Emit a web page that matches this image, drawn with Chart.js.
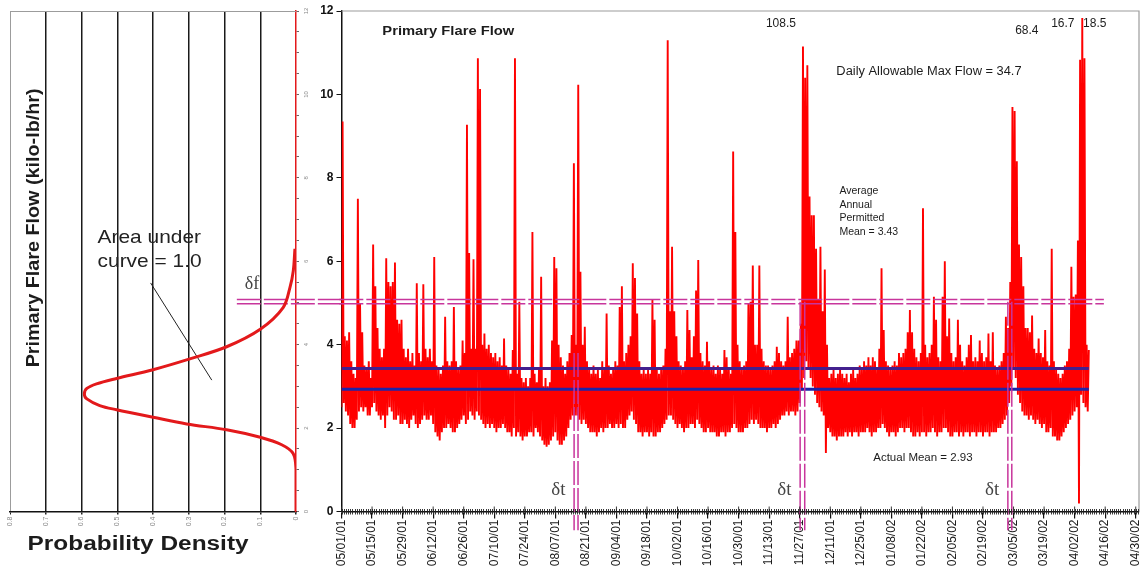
<!DOCTYPE html>
<html lang="en">
<head>
<meta charset="UTF-8">
<title>Primary Flare Flow</title>
<script src="https://cdn.jsdelivr.net/npm/chart.js"></script>
<style>
  body { margin: 0; background: #fff; }
  #wrap { position: relative; width: 1144px; height: 576px; }
  canvas { position: absolute; left: 0; top: 0; }
</style>
</head>
<body>
<div id="wrap">
  <canvas id="densityChart" width="345" height="576"></canvas>
  <canvas id="flowChart" width="1144" height="576"></canvas>
</div>
<script>
// ---- data ----
const dateLabels = ['05/01/01', '05/15/01', '05/29/01', '06/12/01', '06/26/01', '07/10/01', '07/24/01',
  '08/07/01', '08/21/01', '09/04/01', '09/18/01', '10/02/01', '10/16/01', '10/30/01', '11/13/01',
  '11/27/01', '12/11/01', '12/25/01', '01/08/02', '01/22/02', '02/05/02', '02/19/02', '03/05/02',
  '03/19/02', '04/02/02', '04/16/02', '04/30/02'];

// daily high / low of primary flare flow (kilo-lb/hr), day 0 = 05/01/01
const flowHigh = [
  9.35, 4.2, 4.1, 4.3, 3.6, 3.3, 3.2, 7.5, 5.0, 4.3,
  3.5, 3.4, 3.6, 3.2, 6.4, 5.4, 4.4, 3.9, 3.7, 3.9,
  6.07, 5.5, 5.4, 5.5, 5.97, 4.6, 4.5, 4.6, 3.9, 3.7,
  3.9, 3.6, 3.8, 3.5, 5.47, 3.8, 3.6, 5.45, 3.9, 3.7,
  3.9, 3.6, 6.1, 3.5, 3.4, 3.3, 3.5, 4.67, 3.6, 3.5,
  3.6, 4.9, 3.6, 3.4, 3.5, 4.1, 3.8, 9.27, 6.2, 3.9,
  6.05, 3.9, 10.87, 10.13, 4.0, 4.27, 3.9, 4.0, 3.8, 3.7,
  3.8, 3.6, 3.7, 3.5, 4.15, 3.5, 3.4, 3.3, 3.87, 10.87,
  3.3, 5.03, 3.2, 3.1, 3.2, 3.0, 3.2, 6.7, 3.3, 3.1,
  3.4, 5.63, 3.0, 3.2, 3.0, 3.1, 4.1, 6.1, 5.83, 4.0,
  3.7, 3.5, 3.3, 3.6, 3.8, 4.23, 8.35, 4.0, 10.23, 5.75,
  4.0, 4.43, 3.6, 3.4, 3.3, 3.5, 3.3, 3.4, 3.2, 3.6,
  3.4, 4.75, 3.5, 3.3, 3.4, 3.6, 3.5, 4.9, 5.4, 3.6,
  3.8, 4.0, 4.2, 5.95, 5.6, 4.75, 3.6, 3.3, 3.4, 3.3,
  3.4, 3.3, 5.07, 4.6, 3.4, 3.3, 3.4, 3.5, 3.9, 11.3,
  4.8, 6.35, 4.8, 4.2, 3.6, 3.5, 3.4, 3.6, 4.83, 4.35,
  3.7, 4.2, 5.3, 6.03, 3.8, 3.6, 3.5, 4.07, 3.6, 3.4,
  3.5, 3.3, 3.5, 3.4, 3.3, 3.87, 3.7, 3.4, 3.3, 8.63,
  6.7, 4.0, 3.6, 3.4, 3.5, 3.6, 5.0, 5.03, 5.9, 4.0,
  4.0, 5.9, 3.9, 3.6, 3.5, 3.5, 3.4, 3.5, 3.6, 3.95,
  3.8, 3.6, 3.5, 3.6, 4.67, 3.7, 3.8, 3.9, 4.1, 4.1,
  4.5, 11.15, 10.4, 10.7, 7.55, 7.1, 7.1, 6.3, 5.07, 6.35,
  4.8, 5.8, 4.0, 3.2, 3.3, 3.4, 3.2, 3.3, 3.4, 3.3,
  3.2, 3.3, 3.1, 3.3, 3.4, 3.2, 3.3, 3.5, 3.4, 3.6,
  3.5, 3.7, 3.5, 3.7, 3.6, 3.4, 3.9, 5.83, 4.35, 3.6,
  3.5, 3.4, 3.5, 3.6, 3.5, 3.8, 3.7, 3.8, 3.9, 4.3,
  4.83, 4.3, 3.9, 3.7, 3.6, 3.8, 7.27, 4.0, 3.7, 3.8,
  4.0, 5.15, 4.6, 3.7, 3.6, 5.15, 6.0, 4.2, 4.63, 3.8,
  3.6, 3.7, 4.6, 4.0, 3.6, 3.5, 3.7, 4.0, 4.23, 3.6,
  3.7, 3.6, 4.1, 3.8, 3.6, 3.7, 4.27, 3.6, 4.3, 3.5,
  3.4, 3.5, 3.6, 3.8, 4.67, 4.4, 5.5, 9.7, 9.6, 8.4,
  6.4, 6.1, 5.4, 4.4, 4.4, 4.3, 4.7, 3.9, 3.8, 4.15,
  3.8, 3.7, 4.35, 3.6, 3.5, 6.3, 3.6, 3.4, 3.3, 3.2,
  3.3, 3.5, 3.6, 3.9, 5.87, 5.15, 5.2, 6.5, 10.83, 11.83,
  10.87, 4.0, 3.87
];
const flowLow = [
  2.5, 2.6, 2.4, 2.3, 2.1, 2.0, 2.0, 2.2, 2.4, 2.5,
  2.4, 2.5, 2.3, 2.3, 2.5, 2.6, 2.4, 2.3, 2.2, 2.3,
  2.0, 2.3, 2.5, 2.4, 2.2, 2.2, 2.3, 2.1, 2.1, 2.2,
  2.1, 2.0, 2.2, 2.3, 2.1, 2.0, 2.1, 2.2, 2.3, 2.2,
  2.2, 2.3, 2.1, 1.9, 1.8, 1.7, 1.9, 2.0, 2.0, 2.1,
  2.0, 1.9, 1.9, 2.0, 2.1, 2.2, 2.3, 2.1, 2.2, 2.4,
  2.3, 2.2, 2.4, 2.3, 2.2, 2.1, 2.0, 2.1, 2.0, 2.1,
  2.0, 1.9, 2.0, 2.0, 2.1, 2.0, 1.9, 1.9, 1.8, 2.0,
  1.8, 1.9, 1.8, 1.7, 1.8, 1.8, 1.9, 1.9, 1.8, 2.0,
  1.9, 1.8, 1.7, 1.6, 1.55, 1.6, 1.7, 1.8, 1.9, 1.7,
  1.6, 1.6, 1.7, 1.8, 2.0, 2.2, 2.3, 2.3, 2.3, 2.2,
  2.1, 2.2, 2.1, 2.0, 1.9, 1.9, 1.9, 1.8, 1.9, 2.0,
  1.9, 2.0, 2.0, 2.1, 2.0, 2.0, 2.1, 2.0, 2.1, 2.0,
  2.0, 2.2, 2.3, 2.4, 2.2, 2.1, 1.9, 1.9, 1.8, 1.9,
  1.9, 1.8, 1.9, 1.8, 1.8, 1.9, 1.9, 2.0, 2.1, 2.2,
  2.3, 2.3, 2.2, 2.1, 2.0, 2.1, 2.0, 1.9, 2.0, 2.0,
  2.1, 2.1, 2.0, 2.2, 2.1, 2.0, 1.9, 1.9, 2.0, 1.9,
  1.9, 1.9, 1.8, 1.8, 1.9, 1.9, 1.8, 1.9, 1.9, 2.0,
  2.1, 2.0, 1.9, 1.9, 1.9, 2.0, 2.0, 2.1, 2.2, 2.1,
  2.2, 2.1, 2.0, 2.0, 2.0, 1.9, 2.0, 2.0, 2.1, 2.0,
  2.1, 2.2, 2.3, 2.3, 2.4, 2.3, 2.4, 2.4, 2.3, 2.4,
  2.6, 2.9, 3.2, 3.6, 3.4, 3.2, 3.0, 2.8, 2.6, 2.5,
  2.4, 2.3, 1.4, 2.0, 1.9, 1.8, 1.8, 1.7, 1.8, 1.8,
  1.8, 1.9, 1.8, 1.9, 1.8, 1.9, 1.9, 1.8, 1.9, 1.9,
  1.9, 2.0, 1.9, 1.8, 1.9, 1.9, 2.0, 2.0, 2.1, 2.0,
  1.9, 1.8, 1.9, 1.9, 1.8, 1.9, 2.0, 2.0, 1.9, 2.0,
  2.0, 1.9, 1.8, 1.8, 1.9, 1.8, 1.9, 1.9, 1.8, 1.9,
  1.9, 2.0, 1.9, 1.8, 1.9, 1.9, 2.0, 2.0, 1.9, 1.8,
  1.8, 1.9, 1.9, 1.8, 1.9, 1.8, 1.9, 1.9, 1.8, 1.9,
  1.9, 1.8, 1.9, 1.9, 1.8, 1.9, 1.9, 1.8, 1.9, 1.9,
  1.9, 2.0, 2.0, 2.1, 2.2, 2.3, 2.6, 3.0, 3.4, 3.2,
  2.8, 2.6, 2.4, 2.3, 2.3, 2.2, 2.3, 2.2, 2.1, 2.2,
  2.1, 2.0, 2.1, 1.9, 1.9, 2.0, 1.8, 1.8, 1.7, 1.7,
  1.8, 1.9, 2.0, 2.1, 2.2, 2.3, 2.4, 2.5, 0.19, 2.8,
  2.6, 2.5, 2.4
];

// probability density curve (flow value -> density)
const densFlow  = [0, 1.0, 1.39, 1.6, 1.78, 1.96, 2.10, 2.26, 2.44, 2.54, 2.70, 2.82, 2.95, 3.06, 3.19, 3.40, 3.66, 3.95, 4.37, 4.89, 5.37, 5.77, 6.3];
const densValue = [0, 0, 0.008, 0.04, 0.10, 0.194, 0.306, 0.40, 0.502, 0.549, 0.585, 0.592, 0.585, 0.558, 0.502, 0.40, 0.297, 0.194, 0.10, 0.036, 0.017, 0.0076, 0.003];

const permittedMean = 3.43;
const actualMean = 2.93;
const deltaFLevels = [4.98, 5.08];
const deltaTDays = [[106.6, 108.4], [210.2, 212.3], [305.4, 307.2]];
const deltaTTops = [3.8, 5.03, 5.03];

// ---- styling ----
const FONT = "'Liberation Sans', Arial, Helvetica, sans-serif";
const SERIF = "'Liberation Serif', 'DejaVu Serif', 'Times New Roman', serif";
const MAGENTA = '#c8359c';
Chart.defaults.font.family = FONT;

function drawNote(ctx, text, px, py, font, align, color, sx, rot) {
  ctx.save();
  ctx.translate(px, py);
  if (rot) ctx.rotate(rot);
  if (sx) ctx.scale(sx, 1);
  ctx.font = font;
  ctx.fillStyle = color;
  ctx.textAlign = align;
  ctx.textBaseline = 'middle';
  ctx.fillText(text, 0, 0);
  ctx.restore();
}

// ---- left: probability density ----
const densDecor = {
  id: 'densDecor',
  beforeDatasetsDraw(chart) {
    const {ctx, chartArea: a} = chart;
    ctx.save();
    ctx.strokeStyle = '#9c9c9c';
    ctx.lineWidth = 1;
    ctx.beginPath();
    ctx.moveTo(a.left, a.top + 0.5);
    ctx.lineTo(a.right, a.top + 0.5);
    ctx.stroke();
    ctx.restore();
  },
  afterDraw(chart) {
    const {ctx, scales: {x, y}} = chart;
    const at = (d, v) => [x.getPixelForValue(d), y.getPixelForValue(v)];
    let p = at(0.7333, 6.8);
    drawNote(ctx, 'Primary Flare Flow (kilo-lb/hr)', p[0], p[1], 'bold 19px ' + FONT, 'center', '#1c1c1c', 1.04, -Math.PI / 2);
    p = at(0.4417, -0.8);
    drawNote(ctx, 'Probability Density', p[0], p[1], 'bold 20px ' + FONT, 'center', '#1c1c1c', 1.22);
    p = at(0.555, 6.56);
    drawNote(ctx, 'Area under', p[0], p[1], '19px ' + FONT, 'left', '#222', 1.1);
    p = at(0.555, 5.98);
    drawNote(ctx, 'curve = 1.0', p[0], p[1], '19px ' + FONT, 'left', '#222', 1.1);
    p = at(0.1234, 5.46);
    drawNote(ctx, 'δf', p[0], p[1], '18px ' + SERIF, 'center', '#444');
  }
};

new Chart(document.getElementById('densityChart'), {
  type: 'line',
  data: {
    datasets: [
      {
        data: densFlow.map((f, i) => ({x: densValue[i], y: f})),
        borderColor: '#e3191b', borderWidth: 3, pointRadius: 0, tension: 0.35
      },
      ...deltaFLevels.map(v => ({
        data: [{x: 0.1655, y: v}, {x: -0.1262, y: v}],
        borderColor: MAGENTA, borderWidth: 1.5, borderDash: [24, 3], pointRadius: 0, clip: false
      })),
      {
        data: [{x: 0.4066, y: 5.48}, {x: 0.2356, y: 3.15}],
        borderColor: '#222', borderWidth: 1, pointRadius: 0
      }
    ]
  },
  options: {
    responsive: false, animation: false, devicePixelRatio: 1, events: [],
    layout: { padding: { left: 10, right: 29, top: 11, bottom: 0 } },
    plugins: { legend: { display: false }, tooltip: { enabled: false } },
    scales: {
      x: {
        type: 'linear', reverse: true, min: 0, max: 0.8,
        afterFit: s => { s.height = 64.5; },
        border: { color: '#111', width: 1.5 },
        grid: {
          color: c => Math.abs(c.tick.value - 0.8) < 1e-6 ? '#9c9c9c' : (c.tick.value < 1e-6 ? 'rgba(0,0,0,0)' : '#1a1a1a'),
          lineWidth: c => Math.abs(c.tick.value - 0.8) < 1e-6 ? 1 : 1.5,
          tickColor: '#222', tickLength: 3
        },
        ticks: {
          stepSize: 0.1, autoSkip: false, minRotation: 90, maxRotation: 90, padding: 2,
          color: '#888', font: { size: 7 },
          callback: v => v < 1e-6 ? '0' : v.toFixed(1)
        }
      },
      y: {
        position: 'right', min: 0, max: 12,
        afterFit: s => { s.width = 20; },
        border: { color: '#e3191b', width: 1.5 },
        grid: { drawOnChartArea: false, tickLength: 3, color: '#666' },
        ticks: {
          stepSize: 0.5, autoSkip: false, minRotation: 90, crossAlign: 'center', padding: 4,
          color: '#888', font: { size: 6 },
          callback: v => v % 2 === 0 ? String(v) : ''
        }
      }
    }
  },
  plugins: [densDecor]
});

// ---- right: primary flare flow time series ----
const tickDays = dateLabels.map((_, i) => i * 14);
const dataEndDay = flowHigh.length - 0.5;
const flowPoints = [];
flowHigh.forEach((hi, d) => {
  flowPoints.push({x: d, y: flowLow[d]});
  flowPoints.push({x: d + 0.5, y: hi});
});

const flowDecor = {
  id: 'flowDecor',
  afterDraw(chart) {
    const {ctx, chartArea: a, scales: {x, y}} = chart;
    ctx.save();
    ctx.strokeStyle = '#9c9c9c';
    ctx.lineWidth = 1.2;
    ctx.beginPath();
    ctx.moveTo(a.left, a.top);
    ctx.lineTo(a.right, a.top);
    ctx.lineTo(a.right, a.bottom);
    ctx.stroke();
    // daily minor ticks
    ctx.strokeStyle = '#222';
    ctx.lineWidth = 0.9;
    ctx.beginPath();
    for (let d = 0; d <= 365; d++) {
      const px = Math.round(x.getPixelForValue(d)) + 0.5;
      ctx.moveTo(px, a.bottom - 2.5);
      ctx.lineTo(px, a.bottom + 3);
    }
    tickDays.forEach(d => {
      const px = x.getPixelForValue(d);
      ctx.moveTo(px, a.bottom - 5);
      ctx.lineTo(px, a.bottom);
    });
    ctx.stroke();
    ctx.restore();

    const at = (d, v) => [x.getPixelForValue(d), y.getPixelForValue(v)];
    const notes = [
      ['Primary Flare Flow', 18.7, 11.5, 'bold 12.5px ' + FONT, 'left', 1.18],
      ['108.5', 201.4, 11.69, '12px ' + FONT, 'center'],
      ['68.4', 314.1, 11.52, '12px ' + FONT, 'center'],
      ['16.7', 330.6, 11.7, '12px ' + FONT, 'center'],
      ['18.5', 345.2, 11.7, '12px ' + FONT, 'center'],
      ['Daily Allowable Max Flow = 34.7', 226.8, 10.54, '12px ' + FONT, 'left', 1.07],
      ['Average', 228.2, 7.68, '10.5px ' + FONT, 'left'],
      ['Annual', 228.2, 7.35, '10.5px ' + FONT, 'left'],
      ['Permitted', 228.2, 7.03, '10.5px ' + FONT, 'left'],
      ['Mean = 3.43', 228.2, 6.70, '10.5px ' + FONT, 'left'],
      ['Actual Mean = 2.93', 243.7, 1.28, '11.5px ' + FONT, 'left']
    ];
    notes.forEach(n => {
      const p = at(n[1], n[2]);
      drawNote(ctx, n[0], p[0], p[1], n[3], n[4], '#1c1c1c', n[5]);
    });
    deltaTDays.forEach(pair => {
      const p = at(pair[0] - 7.2, 0.52);
      drawNote(ctx, 'δt', p[0], p[1], '19px ' + SERIF, 'center', '#444');
    });
  }
};

const flatLine = (v, from, to) => [{x: from, y: v}, {x: to, y: v}];

new Chart(document.getElementById('flowChart'), {
  type: 'line',
  data: {
    datasets: [
      {
        data: flowPoints, borderColor: '#ff0000', borderWidth: 1.9, pointRadius: 0, order: 9
      },
      { data: flatLine(permittedMean, 0, dataEndDay), borderColor: '#43208e', borderWidth: 3, pointRadius: 0, order: 3 },
      { data: flatLine(actualMean, 0, dataEndDay), borderColor: '#1f24a8', borderWidth: 3, pointRadius: 0, order: 3 },
      ...deltaFLevels.map(v => ({
        data: flatLine(v, -1, 349.4), borderColor: MAGENTA, borderWidth: 1.5,
        borderDash: [24, 3], pointRadius: 0, clip: false, order: 1
      })),
      ...deltaTDays.flatMap((pair, i) => pair.map(d => ({
        data: [{x: d, y: deltaTTops[i]}, {x: d, y: -0.45}], borderColor: MAGENTA, borderWidth: 1.5,
        borderDash: [24, 3], pointRadius: 0, clip: false, order: 1
      })))
    ]
  },
  options: {
    responsive: false, animation: false, devicePixelRatio: 1, events: [],
    layout: { padding: { left: 301.5, right: 5, top: 11, bottom: 0 } },
    plugins: { legend: { display: false }, tooltip: { enabled: false } },
    scales: {
      x: {
        type: 'linear', min: 0, max: 365.5,
        afterBuildTicks: s => { s.ticks = tickDays.map(v => ({value: v})); },
        afterFit: s => { s.height = 64.5; s.paddingLeft = 0; s.paddingRight = 0; },
        border: { color: '#111', width: 1.5 },
        grid: { drawOnChartArea: false, tickLength: 7, color: '#111', lineWidth: 1.2 },
        ticks: {
          autoSkip: false, minRotation: 90, maxRotation: 90, padding: 1,
          color: '#1a1a1a', font: { size: 12 },
          callback: (v, i) => dateLabels[i]
        }
      },
      y: {
        min: 0, max: 12,
        afterFit: s => { s.width = 40; },
        border: { color: '#111', width: 1.5 },
        grid: { drawOnChartArea: false, tickLength: 5, color: '#111' },
        ticks: { stepSize: 2, color: '#111', font: { size: 12, weight: 'bold' }, padding: 3 }
      }
    }
  },
  plugins: [flowDecor]
});
</script>
</body>
</html>
